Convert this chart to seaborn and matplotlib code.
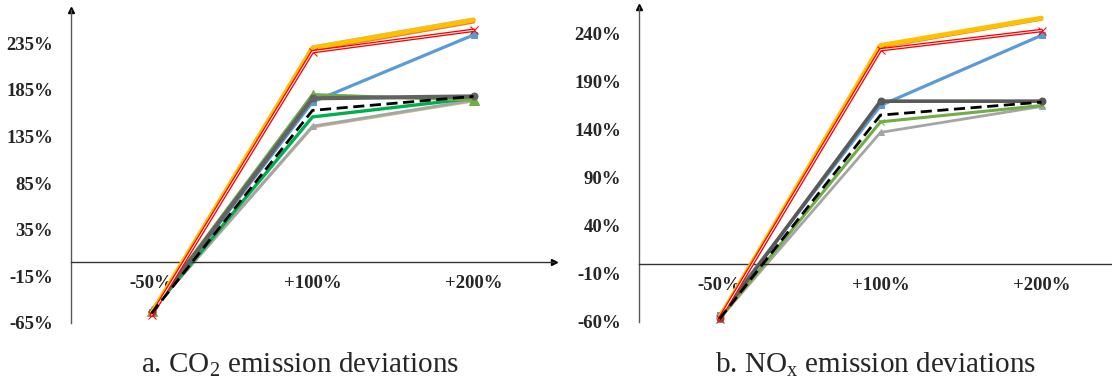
import numpy as np
import pandas as pd
import matplotlib
matplotlib.use("Agg")
import matplotlib.pyplot as plt
import seaborn as sns

sns.set_style("white")
plt.rcParams["font.family"] = ["Liberation Serif", "DejaVu Serif"]
plt.rcParams["mathtext.fontset"] = "custom"
plt.rcParams["mathtext.rm"] = "Liberation Serif"
plt.rcParams["mathtext.it"] = "Liberation Serif:italic"

categories = ["-50%", "+100%", "+200%"]

# CO2 emission deviations (%)
co2_tan = [-52, 145, 173]
co2_lgray = [-52, 146, 174]
co2_bgreen = [-53, 156, 176]
co2_blue = [-53, 172, 244]
co2_green = [-52, 180, 174]
co2_dgray = [-53, 176, 178]
co2_black = [-55, 163, 178]
co2_gray_top = [-55, 231, 261]
co2_orange = [-56, 228, 258]
co2_yellow = [-55, 230, 260]
co2_red = [-57, 226, 249]

# NOx emission deviations (%)
nox_lgray = [-57, 137, 164]
nox_green = [-57, 148, 165]
nox_blue = [-53, 165, 238]
nox_dgray = [-56, 169.5, 169.5]
nox_black = [-57, 155, 168.5]
nox_orange = [-57, 226, 255]
nox_yellow = [-56, 227.5, 256]
nox_red = [-57, 223, 243]

co2_yticks = [-65, -15, 35, 85, 135, 185, 235]
nox_yticks = [-60, -10, 40, 90, 140, 190, 240]

W, H = 1112, 387
fig = plt.figure(figsize=(W / 100, H / 100), dpi=100)

ax1 = fig.add_axes([71 / W, (H - 322.7) / H, 483 / W, 312.7 / H])
ax2 = fig.add_axes([639 / W, (H - 321.7) / H, (W - 639) / W, 314.7 / H])

x = np.arange(len(categories))


def draw(ax, y, color, lw, marker=None, ms=6, ls="-", z=2, double=False, mec=None):
    sns.lineplot(x=x, y=y, ax=ax, color=color, lw=lw, marker=marker, markersize=ms,
                 linestyle=ls, zorder=z, markeredgecolor=mec if mec else color,
                 markerfacecolor=color, sort=False, clip_on=False)
    if double:
        sns.lineplot(x=x, y=y, ax=ax, color="white", lw=0.7, zorder=z + 0.1,
                     sort=False, clip_on=False)


# left chart
draw(ax1, co2_tan, "#C9B88C", 2.0, z=2)
draw(ax1, co2_lgray, "#A5A5A5", 2.0, marker="^", ms=5, z=2.2)
draw(ax1, co2_bgreen, "#00B050", 2.4, z=2.4)
draw(ax1, co2_blue, "#5B9BD5", 2.3, marker="s", ms=5, z=2.6)
draw(ax1, co2_green, "#70AD47", 2.2, marker="^", ms=7, z=2.7)
draw(ax1, co2_dgray, "#636363", 3.0, marker="o", ms=5, z=2.8)
draw(ax1, co2_black, "black", 2.0, ls=(0, (4, 2)), z=3.5)
draw(ax1, co2_gray_top, "#BFBFBF", 2.5, z=3.0)
draw(ax1, co2_orange, "#ED7D31", 2.5, z=3.1)
draw(ax1, co2_yellow, "#FFC000", 3.4, z=3.2)
draw(ax1, co2_red, "#FF0000", 2.6, marker="x", ms=6, z=3.3, double=True)

# right chart
draw(ax2, nox_lgray, "#A5A5A5", 2.0, marker="^", ms=5, z=2.2)
draw(ax2, nox_green, "#70AD47", 2.2, marker="x", ms=4, z=2.4)
draw(ax2, nox_blue, "#5B9BD5", 2.3, marker="s", ms=5, z=2.6)
draw(ax2, nox_dgray, "#595959", 2.6, marker="o", ms=5, z=2.8)
draw(ax2, nox_black, "black", 2.0, ls=(0, (4, 2)), z=3.5)
draw(ax2, nox_orange, "#ED7D31", 2.5, z=3.1)
draw(ax2, nox_yellow, "#FFC000", 3.4, z=3.2)
draw(ax2, nox_red, "#FF0000", 2.6, marker="x", ms=6, z=3.3, double=True)

for ax, yt, ylim, xr, arrow in [
    (ax1, co2_yticks, (-65, 270.8), 2.5, True),
    (ax2, nox_yticks, (-60, 267.5), -0.5 + (W - 639) / 161, False),
]:
    ax.spines["top"].set_visible(False)
    ax.spines["right"].set_visible(False)
    ax.spines["bottom"].set_position(("data", 0))
    ax.spines["left"].set_color("#595959")
    ax.spines["bottom"].set_color("#333333")
    ax.spines["left"].set_linewidth(1.0)
    ax.spines["bottom"].set_linewidth(1.0)
    ax.set_xlim(-0.5, xr)
    ax.set_ylim(*ylim)
    ax.set_yticks(yt)
    ax.set_yticklabels([f"{v}%" for v in yt], fontsize=13.5, fontweight="bold")
    ax.set_xticks(x)
    ax.set_xticklabels(categories, fontsize=13.5, fontweight="bold")
    ax.tick_params(axis="both", length=0)
    ax.tick_params(axis="y", pad=13)
    ax.tick_params(axis="x", pad=9)
    ax.set_xlabel("")
    ax.set_ylabel("")
    ax.patch.set_alpha(0)
    ax.plot(0, 1, "^", color="black", ms=5, transform=ax.transAxes, clip_on=False)
    if arrow:
        ax.plot(1, 0, ">", color="black", ms=5, transform=ax.get_yaxis_transform(),
                clip_on=False)

fig.text(300 / W, (H - 365) / H, r"a. CO$_2$ emission deviations", ha="center",
         va="center", fontsize=21)
fig.text(876 / W, (H - 365) / H, r"b. NO$_\mathrm{x}$ emission deviations", ha="center",
         va="center", fontsize=21)

fig.savefig("out.png", dpi=100)
